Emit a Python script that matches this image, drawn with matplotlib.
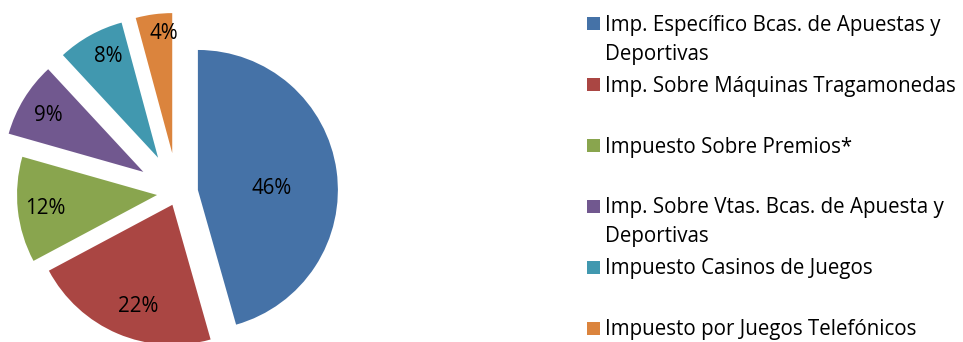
import numpy as np
import matplotlib
matplotlib.use("Agg")
import matplotlib.pyplot as plt
from matplotlib.patches import Rectangle

plt.rcParams['font.family'] = ['Open Sans', 'DejaVu Sans']

# data
labels = [
    "Imp. Específico Bcas. de Apuestas y\nDeportivas",
    "Imp. Sobre Máquinas Tragamonedas",
    "Impuesto Sobre Premios*",
    "Imp. Sobre Vtas. Bcas. de Apuesta y\nDeportivas",
    "Impuesto Casinos de Juegos",
    "Impuesto por Juegos Telefónicos",
]
shares = [45.6, 21.6, 12.2, 8.7, 7.7, 4.2]
colors = ["#4572A7", "#AA4643", "#89A54E", "#71588F", "#4198AF", "#DB843D"]

# layout (pixels)
W, H = 963, 342
RADIUS = 140
CENTER = (177.5, H - 192.8)
explode_frac = [0.147, 0.093, 0.147, 0.286, 0.286, 0.286]
label_dist = [0.53, 0.75, 0.80, 0.80, 0.82, 0.87]
label_turn = [-5.6, 4.0, 0.0, 0.0, -3.0, -3.7]   # degrees off the wedge middle
FONT_SIZE = 14.8


def main():
    fig = plt.figure(figsize=(W / 100, H / 100), dpi=100)
    ax = fig.add_axes([0, 0, 1, 1])

    # matplotlib offsets wedges in data units, so scale by the radius
    explode = [f * RADIUS for f in explode_frac]
    wedges, _ = ax.pie(shares, colors=colors, startangle=90, counterclock=False,
                       explode=explode, radius=RADIUS, center=CENTER,
                       wedgeprops=dict(linewidth=0))

    for w, v, d, t in zip(wedges, shares, label_dist, label_turn):
        mid = np.deg2rad((w.theta1 + w.theta2) / 2 + t)
        cx, cy = w.center
        ax.text(cx + d * RADIUS * np.cos(mid), cy + d * RADIUS * np.sin(mid) - 2,
                f"{v:.0f}%", ha="center", va="center", fontsize=FONT_SIZE,
                color="black")

    # legend, one evenly spaced slot per entry
    y0, step, line_gap = 23.7, 60.9, 29
    for i, (lab, col) in enumerate(zip(labels, colors)):
        yc = y0 + i * step
        ax.add_patch(Rectangle((587, H - yc - 6.5), 13, 13, color=col, lw=0))
        for j, line in enumerate(lab.split("\n")):
            ax.text(605, H - (yc + 7 + j * line_gap), line, ha="left",
                    va="baseline", fontsize=FONT_SIZE, color="black")

    ax.set_xlim(0, W)
    ax.set_ylim(0, H)
    ax.set_aspect("equal")
    ax.axis("off")
    fig.savefig("out.png", dpi=100)


if __name__ == "__main__":
    main()
